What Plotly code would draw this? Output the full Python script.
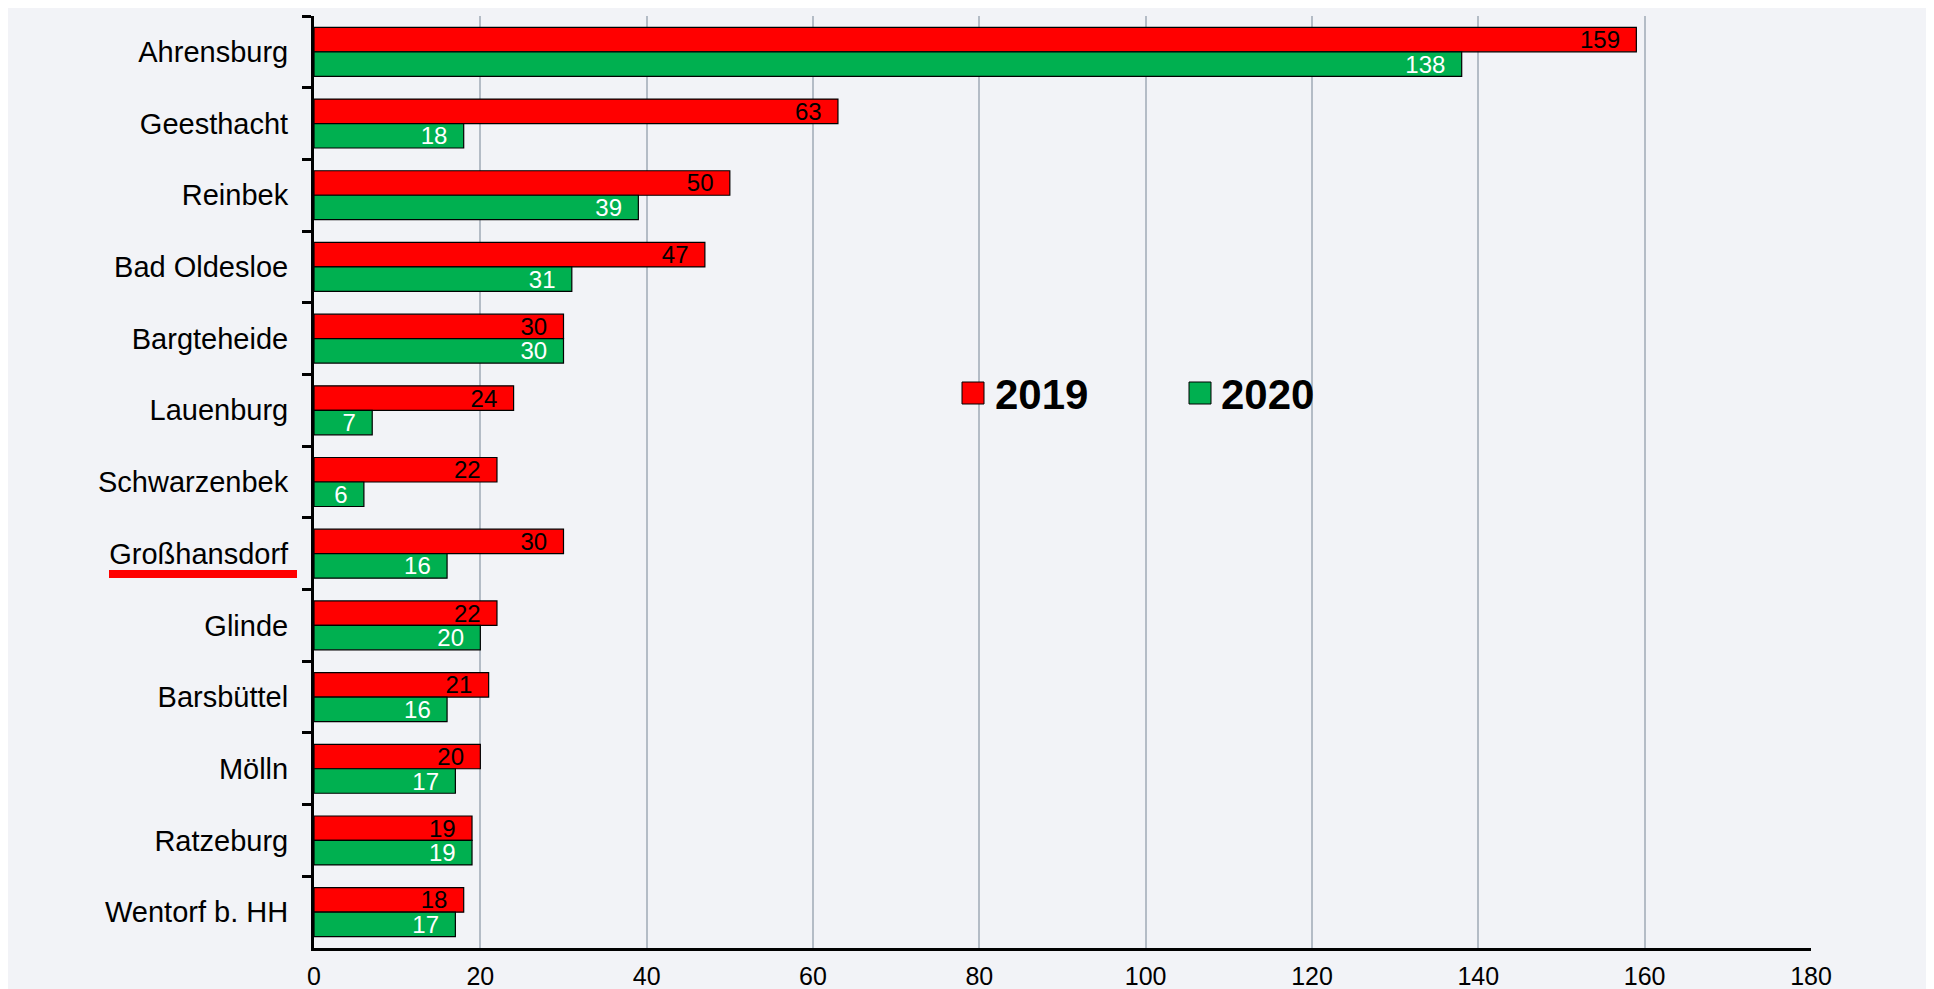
import plotly.graph_objects as go

# Werte aus der Vorlage
orte = [
    "Ahrensburg", "Geesthacht", "Reinbek", "Bad Oldesloe", "Bargteheide",
    "Lauenburg", "Schwarzenbek", "Großhansdorf", "Glinde", "Barsbüttel",
    "Mölln", "Ratzeburg", "Wentorf b. HH",
]
werte_2019 = [159, 63, 50, 47, 30, 24, 22, 30, 22, 21, 20, 19, 18]
werte_2020 = [138, 18, 39, 31, 30, 7, 6, 16, 20, 16, 17, 19, 17]
x_ticks = [0, 20, 40, 60, 80, 100, 120, 140, 160, 180]

# die Seite hat 8px Rand (body margin), die Figur beginnt also bei (8, 8)
W, H = 1926, 985
L, R, T, B = 306, 123, 8, 45
PW, PH = W - L - R, H - T - B
FONT = "Liberation Sans, Arial, sans-serif"
BG = "#F2F3F7"
ROT = "#FF0000"
GRUEN = "#00B050"


def px_x(px):
    return (px - L) / PW


def px_y(py):
    return (H - B - py) / PH


def bar(name, vals, color, text_color):
    return go.Bar(
        y=orte,
        x=vals,
        name=name,
        orientation="h",
        marker=dict(color=color, line=dict(color="#000000", width=1.2)),
        text=[f"{v}\u00a0\u00a0" for v in vals],
        textposition="inside",
        insidetextanchor="end",
        constraintext="none",
        textangle=0,
        textfont=dict(size=24, color=text_color, family=FONT),
        showlegend=False,
    )


fig = go.Figure()
fig.add_trace(bar("2019", werte_2019, ROT, "#000000"))
fig.add_trace(bar("2020", werte_2020, GRUEN, "#FFFFFF"))

shapes = [
    # Unterstreichung Großhansdorf
    dict(type="rect", xref="paper", yref="paper", x0=px_x(101), x1=px_x(289),
         y0=px_y(570), y1=px_y(562), fillcolor=ROT, line_width=0),
    # Legende
    dict(type="rect", xref="paper", yref="paper", x0=px_x(954), x1=px_x(976),
         y0=px_y(396), y1=px_y(374), fillcolor=ROT, line=dict(color="#000", width=1)),
    dict(type="rect", xref="paper", yref="paper", x0=px_x(1181), x1=px_x(1203),
         y0=px_y(396), y1=px_y(374), fillcolor=GRUEN, line=dict(color="#000", width=1)),
]

annotations = [
    dict(text="<b>2019</b>", xref="paper", yref="paper", x=px_x(985), y=px_y(386),
         xanchor="left", yanchor="middle", showarrow=False,
         font=dict(size=42, color="#000", family=FONT)),
    dict(text="<b>2020</b>", xref="paper", yref="paper", x=px_x(1211), y=px_y(386),
         xanchor="left", yanchor="middle", showarrow=False,
         font=dict(size=42, color="#000", family=FONT)),
]

fig.update_layout(
    width=W,
    height=H,
    margin=dict(l=L, r=R, t=T, b=B, pad=0),
    paper_bgcolor=BG,
    plot_bgcolor=BG,
    barmode="group",
    bargap=0.317,
    bargroupgap=0,
    showlegend=False,
    shapes=shapes,
    annotations=annotations,
    xaxis=dict(
        range=[0, 180],
        tickvals=x_ticks,
        ticks="",
        showline=True,
        linecolor="#000",
        linewidth=3,
        showgrid=True,
        gridcolor="#B4BCC6",
        gridwidth=1.5,
        zeroline=False,
        automargin=False,
        tickfont=dict(size=25, color="#000", family=FONT),
        ticklabelstandoff=4,
    ),
    # Teilstriche der x-Achse separat, damit die Beschriftung etwas hoeher sitzt
    xaxis2=dict(
        overlaying="x",
        anchor="y",
        side="bottom",
        range=[0, 180],
        tickvals=x_ticks,
        ticks="outside",
        ticklen=7,
        tickwidth=3,
        tickcolor="#000",
        showticklabels=False,
        showgrid=False,
        showline=False,
        zeroline=False,
        automargin=False,
    ),
    yaxis=dict(
        type="category",
        categoryorder="array",
        categoryarray=orte,
        autorange="reversed",
        ticks="outside",
        tickson="boundaries",
        ticklen=9,
        tickwidth=3,
        tickcolor="#000",
        showline=True,
        linecolor="#000",
        linewidth=3,
        showgrid=False,
        zeroline=False,
        automargin=False,
        tickfont=dict(size=29, color="#000", family=FONT),
        ticklabelstandoff=17,
    ),
    # nur fuer die nach innen reichenden Teilstriche
    yaxis2=dict(
        overlaying="y",
        anchor="x",
        side="left",
        range=[len(orte) - 0.5, -0.5],
        tickvals=[i - 0.5 for i in range(len(orte) + 1)],
        ticks="inside",
        ticklen=9,
        tickwidth=3,
        tickcolor="#000",
        showticklabels=False,
        showgrid=False,
        showline=False,
        zeroline=False,
        automargin=False,
    ),
)

fig.write_html("out.html")
